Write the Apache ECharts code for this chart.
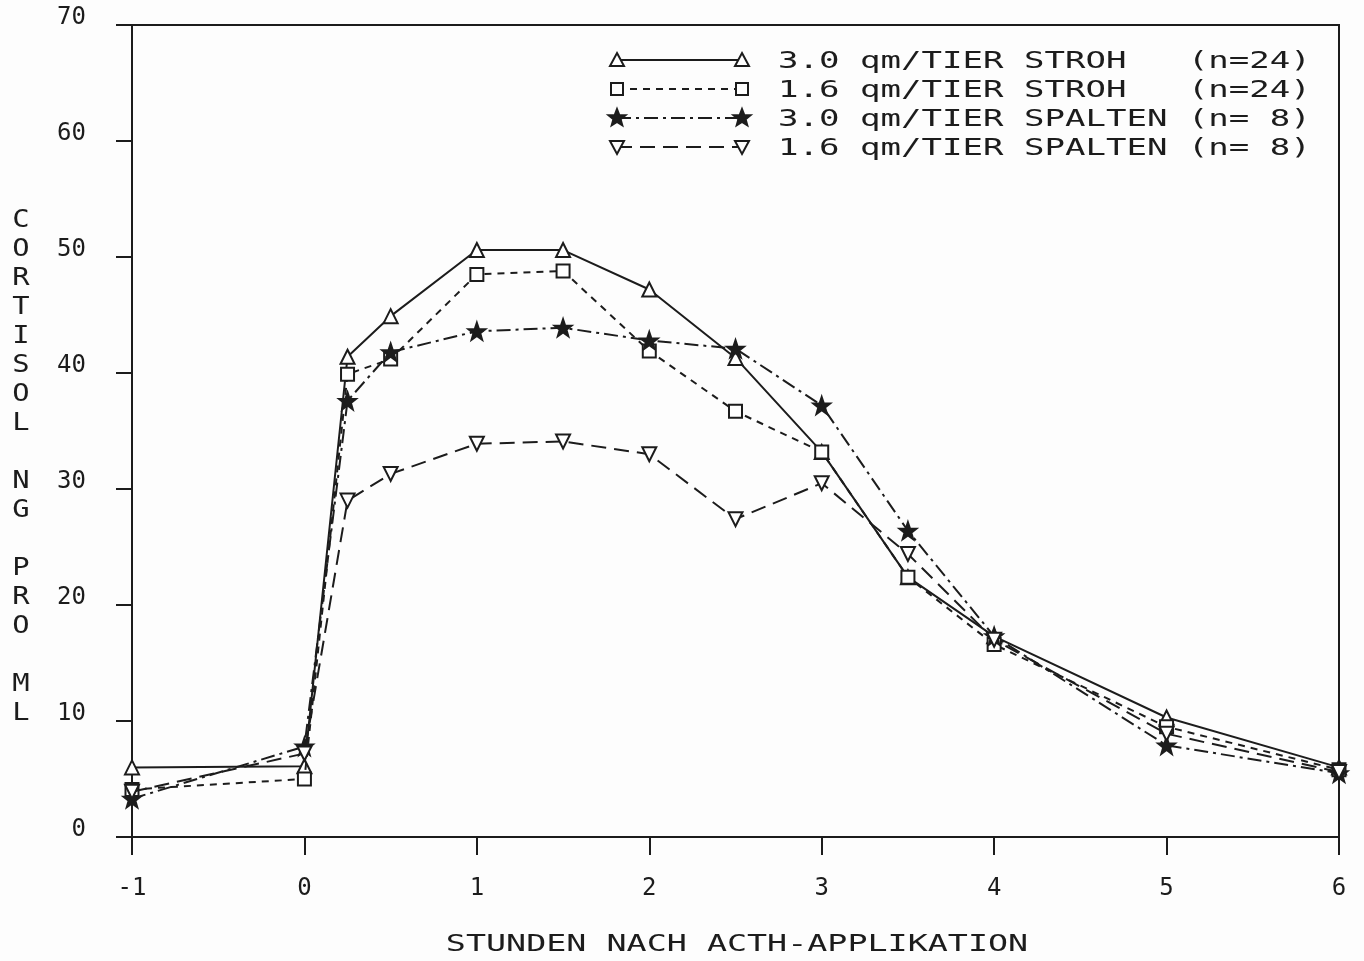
<!DOCTYPE html>
<html>
<head>
<meta charset="utf-8">
<script src="https://cdn.jsdelivr.net/npm/echarts@6/dist/echarts.min.js"></script>
<style>
  html, body { margin: 0; padding: 0; background: #fdfdfd; }
  #chart { width: 1364px; height: 961px; }
</style>
</head>
<body>
<div id="chart"></div>
<script>
// Hours after ACTH injection (sampling times)
const hours = [-1, 0, 0.25, 0.5, 1, 1.5, 2, 2.5, 3, 3.5, 4, 5, 6];

// Cortisol (ng/ml) per housing group
const stroh30 = [6.0, 6.1, 41.4, 44.9, 50.6, 50.6, 47.2, 41.3, 33.2, 22.4, 17.3, 10.3, 6.0];
const stroh16 = [4.1, 5.0, 39.9, 41.2, 48.5, 48.8, 41.9, 36.7, 33.2, 22.4, 16.6, 9.5, 5.8];
const spalten30 = [3.3, 7.8, 37.6, 41.8, 43.6, 43.9, 42.8, 42.1, 37.2, 26.4, 17.3, 7.9, 5.5];
const spalten16 = [3.9, 7.2, 29.0, 31.3, 33.9, 34.1, 33.0, 27.4, 30.5, 24.4, 17.0, 8.9, 5.6];

const seriesNames = [
  '3.0 qm/TIER STROH   (n=24)',
  '1.6 qm/TIER STROH   (n=24)',
  '3.0 qm/TIER SPALTEN (n= 8)',
  '1.6 qm/TIER SPALTEN (n= 8)'
];

const xTitle = 'STUNDEN NACH ACTH-APPLIKATION';
const yTitleWords = ['CORTISOL', 'NG', 'PRO', 'ML'];

const INK = '#1c1c1c';
const MONO = '"DejaVu Sans Mono", "Liberation Mono", monospace';
const STAR = 'path://M0,-10L2.35,-3.24L9.51,-3.09L3.8,1.24L5.88,8.09L0,4L-5.88,8.09L-3.8,1.24L-9.51,-3.09L-2.35,-3.24Z';

const styles = [
  { data: stroh30,   symbol: 'triangle', rotate: 0,   dash: 'solid',        fill: '#fff', size: 14 },
  { data: stroh16,   symbol: 'rect',     rotate: 0,   dash: [7, 6],         fill: '#fff', size: 13 },
  { data: spalten30, symbol: STAR,       rotate: 0,   dash: [14, 5, 3, 5],  fill: INK,    size: 17 },
  { data: spalten16, symbol: 'triangle', rotate: 180, dash: [15, 8],        fill: '#fff', size: 14 }
];

const series = styles.map((s, i) => ({
  name: seriesNames[i],
  type: 'line',
  data: hours.map((h, k) => [h, s.data[k]]),
  symbol: s.symbol,
  symbolRotate: s.rotate,
  symbolSize: s.size,
  showAllSymbol: true,
  lineStyle: { color: INK, width: 2, type: s.dash },
  itemStyle: { color: s.fill, borderColor: INK, borderWidth: 2 },
  emphasis: { disabled: true },
  animation: false,
  z: 3 + i
}));

// Legend block: sample line with a marker at each end, then the label
function markerShape(kind, cx, cy) {
  const common = { style: { fill: kind.fill, stroke: INK, lineWidth: 2 }, z: 20 };
  if (kind.symbol === 'rect') {
    return Object.assign({ type: 'rect', shape: { x: cx - 6, y: cy - 6, width: 12, height: 12 } }, common);
  }
  if (kind.symbol === 'triangle') {
    const d = kind.rotate === 180 ? -1 : 1;
    return Object.assign({ type: 'polygon', shape: { points: [[cx, cy - 7 * d], [cx + 7, cy + 6 * d], [cx - 7, cy + 6 * d]] } }, common);
  }
  const pts = [];
  for (let j = 0; j < 10; j++) {
    const r = j % 2 === 0 ? 9 : 3.8;
    const a = -Math.PI / 2 + j * Math.PI / 5;
    pts.push([cx + r * Math.cos(a), cy + r * Math.sin(a)]);
  }
  return Object.assign({ type: 'polygon', shape: { points: pts } }, common);
}

const legendRows = [60, 89, 118, 147];
const graphic = [];
styles.forEach((s, i) => {
  const y = legendRows[i];
  graphic.push({
    type: 'line', shape: { x1: 617, y1: y, x2: 742, y2: y },
    style: { stroke: INK, lineWidth: 2, lineDash: s.dash === 'solid' ? null : s.dash }, z: 19
  });
  graphic.push(markerShape(s, 617, y));
  graphic.push(markerShape(s, 742, y));
  graphic.push({
    type: 'text', x: 778, y: y + 2, scaleX: 1.48, z: 20,
    style: { text: seriesNames[i], font: '23px ' + MONO, fill: INK, textVerticalAlign: 'middle' }
  });
});

// Axis titles
graphic.push({
  type: 'text', x: 737, y: 945, scaleX: 1.45, z: 20,
  style: { text: xTitle, font: '23px ' + MONO, fill: INK, textAlign: 'center', textVerticalAlign: 'middle' }
});
graphic.push({
  type: 'text', x: 21, y: 206, scaleX: 1.2, z: 20,
  style: {
    text: yTitleWords.map(w => w.split('').join('\n')).join('\n\n'),
    font: '24px ' + MONO, lineHeight: 29, fill: INK, textAlign: 'center', textVerticalAlign: 'top'
  }
});

const chart = echarts.init(document.getElementById('chart'), null, { renderer: 'canvas' });
chart.setOption({
  backgroundColor: '#fdfdfd',
  animation: false,
  grid: {
    left: 132, right: 25, top: 25, bottom: 124,
    show: true, borderColor: INK, borderWidth: 2,
    outerBoundsMode: 'none'
  },
  xAxis: {
    type: 'value', min: -1, max: 6, interval: 1,
    axisLine: { onZero: false, lineStyle: { color: INK, width: 2 } },
    axisTick: { show: true, length: 18, lineStyle: { color: INK, width: 2 } },
    axisLabel: { margin: 40, color: INK, fontFamily: MONO, fontSize: 24 },
    splitLine: { show: false }
  },
  yAxis: {
    type: 'value', min: 0, max: 70, interval: 10,
    axisLine: { show: true, onZero: false, lineStyle: { color: INK, width: 2 } },
    axisTick: { show: true, length: 16, lineStyle: { color: INK, width: 2 } },
    axisLabel: { margin: 46, color: INK, fontFamily: MONO, fontSize: 24, verticalAlign: 'bottom', lineHeight: 14 },
    splitLine: { show: false }
  },
  graphic: graphic,
  series: series
});
</script>
</body>
</html>
